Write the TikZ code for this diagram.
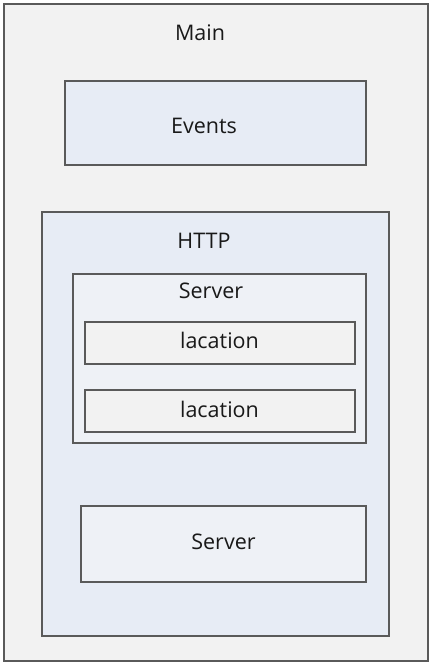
\documentclass[tikz,border=0pt]{standalone}
\usepackage{fontspec}
\setmainfont{Open Sans}
\usetikzlibrary{positioning}
\definecolor{panelgray}{HTML}{F2F2F2}
\definecolor{paleblue}{HTML}{E7ECF5}
\definecolor{paleblue2}{HTML}{EEF1F6}
\definecolor{edgegray}{HTML}{5A5A5A}

\begin{document}
\begin{tikzpicture}[x=1pt,y=-1pt,font=\fontsize{21.5}{25}\selectfont,
  box/.style={draw=edgegray,line width=1.1pt,rectangle,inner sep=0pt},
  tag/.style={inner sep=0pt,text=black!90}]
\useasboundingbox (0,0) rectangle (434,666);
% outer frame and blocks
\node[box,fill=panelgray,minimum width=424pt,minimum height=657pt] (main) at (216,332.5) {};
\node[box,fill=paleblue,minimum width=301pt,minimum height=84pt] (events) at (215.5,123) {};
\node[box,fill=paleblue,minimum width=347pt,minimum height=424pt] (http) at (215.5,424) {};
\node[box,fill=paleblue2,minimum width=293pt,minimum height=169pt] (server) at (219.5,358.5) {};
\node[box,fill=panelgray,minimum width=270pt,minimum height=42pt] (locone) at (220,343) {};
\node[box,fill=panelgray,minimum width=270pt,minimum height=42pt] (loctwo) at (220,411) {};
\node[box,fill=paleblue2,minimum width=285pt,minimum height=76pt] (servertwo) at (223.5,544) {};
% labels
\node[tag] (mainlabel) at (200,33) {Main};
\node[tag] (eventslabel) at (204,126) {Events};
\node[tag] (httplabel) at (204,241) {HTTP};
\node[tag] (serverlabel) at (211,291) {Server};
\node[tag] (loconelabel) at (219.5,340) {lacation};
\node[tag] (loctwolabel) at (219.5,409) {lacation};
\node[tag] (servertwolabel) at (223.5,542) {Server};
\end{tikzpicture}
\end{document}
